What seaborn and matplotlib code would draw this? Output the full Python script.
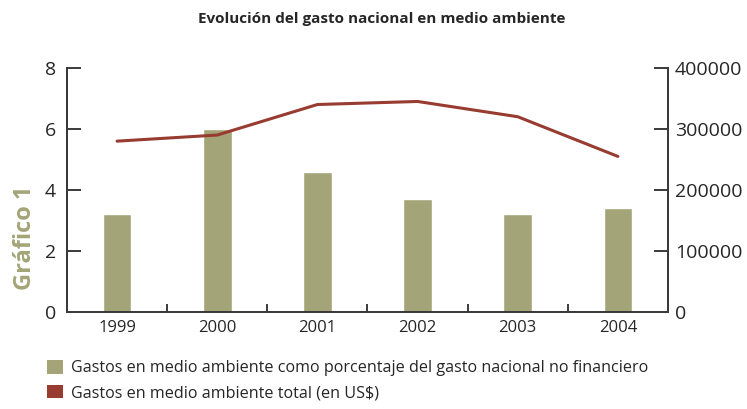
import numpy as np
import pandas as pd
import seaborn as sns
import matplotlib.pyplot as plt
from matplotlib.patches import Patch
from matplotlib.ticker import FixedLocator

# values
years = ['1999', '2000', '2001', '2002', '2003', '2004']
pct_gasto = [3.2, 6.0, 4.6, 3.7, 3.2, 3.4]          # % del gasto nacional no financiero
total_usd = [280000, 290000, 340000, 345000, 320000, 255000]  # total en US$

title = 'Evolución del gasto nacional en medio ambiente'
label_bar = 'Gastos en medio ambiente como porcentaje del gasto nacional no financiero'
label_line = 'Gastos en medio ambiente total (en US$)'

olive = '#A3A578'
red = '#983B30'
spine_col = '#3a3a3a'

df = pd.DataFrame({'year': years, 'pct': pct_gasto, 'usd': total_usd})

sns.set_theme(style='white')
plt.rcParams['font.family'] = ['Open Sans', 'DejaVu Sans']

fig = plt.figure(figsize=(7.47, 4.09), dpi=100)
ax = fig.add_axes([0.0897, 0.237, 0.8045, 0.597])

sns.barplot(data=df, x='year', y='pct', color=olive, width=0.285,
            saturation=1, ax=ax)

ax2 = ax.twinx()
sns.pointplot(data=df, x='year', y='usd', color=red, markers='',
              linestyles='-', ax=ax2)
for ln in ax2.lines:
    ln.set_linewidth(2.2)

ax.set_xlim(-0.5, len(years) - 0.5)
ax.set_ylim(0, 8)
ax2.set_ylim(0, 400000)
ax.set_yticks([0, 2, 4, 6, 8])
ax2.set_yticks([0, 100000, 200000, 300000, 400000])
ax2.set_yticklabels(['0', '100000', '200000', '300000', '400000'])

ax.set_xlabel('')
ax.set_ylabel('')
ax2.set_xlabel('')
ax2.set_ylabel('')

for a in (ax, ax2):
    a.spines['top'].set_visible(False)
    for s in ('left', 'right', 'bottom'):
        a.spines[s].set_color(spine_col)
        a.spines[s].set_linewidth(1.4)

ax.tick_params(axis='y', which='major', direction='in', length=10, width=1.4,
               color=spine_col, labelsize=14, pad=8, left=True)
ax2.tick_params(axis='y', which='major', direction='in', length=10, width=1.4,
                color=spine_col, labelsize=14, pad=5, right=True)
ax.tick_params(axis='x', which='major', length=0, labelsize=12, pad=6)
ax.xaxis.set_minor_locator(FixedLocator(np.arange(0.5, len(years) - 0.5, 1)))
ax.tick_params(axis='x', which='minor', direction='in', length=6, width=1.4,
               color=spine_col, bottom=True)

fig.text(0.511, 0.953, title, ha='center', va='center', fontsize=11,
         fontweight='bold')
fig.text(0.034, 0.418, 'Gráfico 1', rotation=90, ha='center', va='center',
         fontsize=17, fontweight='bold', color=olive)

handles = [Patch(facecolor=olive, edgecolor='none'),
           Patch(facecolor=red, edgecolor='none')]
fig.legend(handles, [label_bar, label_line], loc='lower left',
           bbox_to_anchor=(0.046, -0.012), frameon=False, fontsize=11.6,
           handlelength=0.95, handleheight=0.95, handletextpad=0.55,
           labelspacing=0.5, borderpad=0.3)

fig.savefig('out.png', dpi=100)
